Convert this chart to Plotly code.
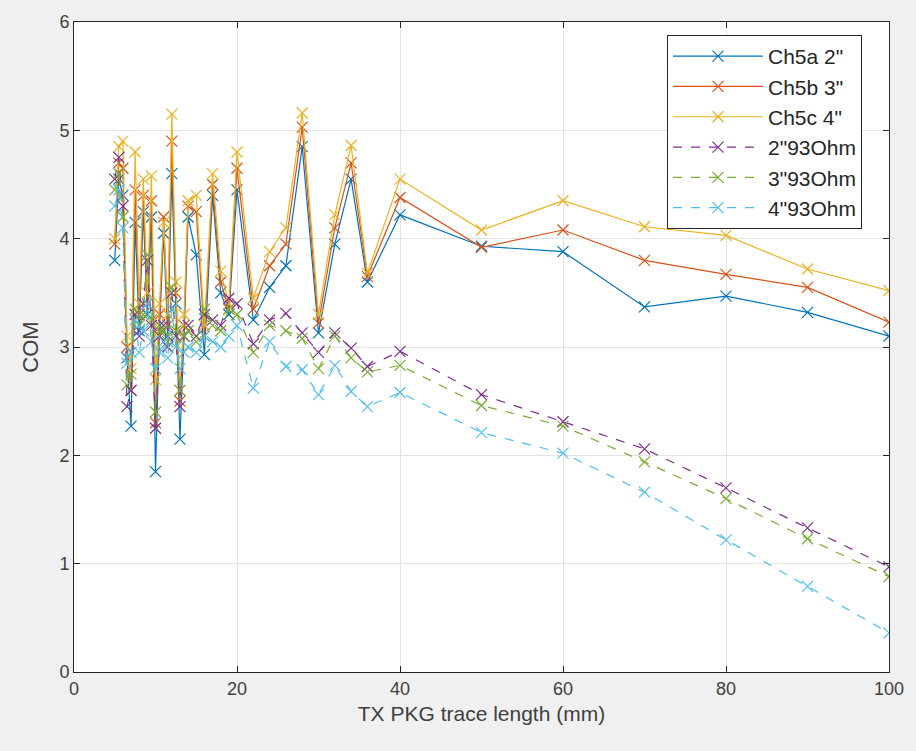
import plotly.graph_objects as go

x_len = [5, 5.5, 6, 6.5, 7, 7.5, 8, 8.5, 9, 9.5, 10, 10.5, 11, 11.5, 12, 12.5, 13, 13.5,
         14, 15, 16, 17, 18, 19, 20, 22, 24, 26, 28, 30, 32, 34, 36, 40, 50, 60, 70, 80, 90, 100]

ch5a_2in = [3.80, 4.55, 4.40, 2.90, 2.27, 4.15, 3.15, 4.25, 3.30, 4.20, 1.85, 3.20, 4.05, 3.10,
            4.60, 3.40, 2.15, 3.10, 4.20, 3.85, 2.93, 4.40, 3.50, 3.30, 4.45, 3.25, 3.55, 3.75,
            4.85, 3.13, 3.95, 4.55, 3.60, 4.22, 3.93, 3.88, 3.37, 3.47, 3.32, 3.10]
ch5b_3in = [3.95, 4.70, 4.65, 3.00, 2.60, 4.45, 3.30, 4.40, 3.40, 4.35, 2.30, 3.30, 4.20, 3.20,
            4.90, 3.50, 2.50, 3.20, 4.30, 4.25, 3.10, 4.50, 3.60, 3.35, 4.65, 3.35, 3.75, 3.95,
            5.03, 3.22, 4.10, 4.70, 3.65, 4.38, 3.92, 4.08, 3.80, 3.67, 3.55, 3.23]
ch5c_4in = [4.00, 4.85, 4.90, 3.10, 2.80, 4.80, 3.40, 4.55, 3.50, 4.58, 2.70, 3.40, 4.15, 3.30,
            5.15, 3.60, 2.60, 3.30, 4.35, 4.40, 3.20, 4.60, 3.70, 3.40, 4.80, 3.45, 3.88, 4.10,
            5.16, 3.30, 4.22, 4.86, 3.68, 4.55, 4.08, 4.35, 4.11, 4.03, 3.72, 3.52]
ohm93_2in = [4.55, 4.75, 4.30, 2.45, 2.60, 3.30, 3.10, 3.40, 3.80, 3.20, 2.25, 3.10, 3.20, 3.00,
             3.50, 3.10, 2.45, 3.10, 3.20, 3.10, 3.30, 3.25, 3.20, 3.45, 3.40, 3.03, 3.25, 3.31,
             3.13, 2.95, 3.13, 2.99, 2.82, 2.96, 2.56, 2.31, 2.06, 1.70, 1.33, 0.97]
ohm93_3in = [4.45, 4.60, 4.20, 2.65, 2.75, 3.35, 3.20, 3.30, 3.85, 3.25, 2.40, 3.15, 3.15, 3.05,
             3.55, 3.15, 2.60, 3.10, 3.15, 3.05, 3.35, 3.20, 3.15, 3.35, 3.30, 2.95, 3.20, 3.15,
             3.08, 2.80, 3.10, 2.90, 2.77, 2.83, 2.46, 2.27, 1.94, 1.60, 1.23, 0.88]
ohm93_4in = [4.30, 4.45, 4.10, 2.85, 2.95, 3.25, 2.95, 3.15, 3.40, 3.05, 2.80, 2.95, 3.05, 2.90,
             3.35, 3.00, 2.80, 2.95, 3.00, 2.95, 3.10, 3.05, 3.00, 3.10, 3.20, 2.62, 3.05, 2.82,
             2.79, 2.56, 2.83, 2.59, 2.45, 2.58, 2.21, 2.02, 1.66, 1.22, 0.79, 0.36]

series_names = ['Ch5a 2"', 'Ch5b 3"', 'Ch5c 4"', '2"93Ohm', '3"93Ohm', '4"93Ohm']
series_vals = [ch5a_2in, ch5b_3in, ch5c_4in, ohm93_2in, ohm93_3in, ohm93_4in]
colors = ['#0072BD', '#D95319', '#EDB120', '#7E2F8E', '#77AC30', '#4DBEEE']
dashes = ['solid', 'solid', 'solid', 'dash', 'dash', 'dash']

fig = go.Figure()
for name, vals, c, d in zip(series_names, series_vals, colors, dashes):
    fig.add_trace(go.Scatter(
        x=x_len, y=vals, name=name, mode='lines+markers',
        line=dict(color=c, width=1.2, dash=d),
        marker=dict(symbol='x-thin', size=11, line=dict(color=c, width=1.2)),
    ))

fam = 'Liberation Sans, Arial, sans-serif'
fig.update_layout(
    width=916, height=751,
    paper_bgcolor='#f0f0f0', plot_bgcolor='white',
    margin=dict(l=74, r=27, t=22, b=79),
    font=dict(family=fam, size=18, color='#404040'),
    showlegend=True,
    legend=dict(
        x=0.7276, y=0.98, xanchor='left', yanchor='top',
        bgcolor='white', bordercolor='#262626', borderwidth=1,
        font=dict(family=fam, size=21, color='#262626'),
        tracegroupgap=0, itemwidth=90,
    ),
)
fig.update_xaxes(
    range=[0, 100], dtick=20, tick0=0,
    showgrid=True, gridcolor='#e3e3e3', gridwidth=1,
    showline=True, linecolor='#262626', linewidth=1, mirror='ticks',
    ticks='inside', ticklen=6, tickcolor='#262626',
    zeroline=False,
    title=dict(text='TX PKG trace length (mm)', font=dict(size=21, color='#404040'), standoff=8),
    tickfont=dict(size=18, color='#404040'),
)
fig.update_yaxes(
    range=[0, 6], dtick=1, tick0=0,
    showgrid=True, gridcolor='#e3e3e3', gridwidth=1,
    showline=True, linecolor='#262626', linewidth=1, mirror='ticks',
    ticks='inside', ticklen=6, tickcolor='#262626',
    zeroline=False,
    title=dict(text='COM', font=dict(size=22, color='#404040'), standoff=14),
    tickfont=dict(size=18, color='#404040'),
)

fig.write_html('out.html')
